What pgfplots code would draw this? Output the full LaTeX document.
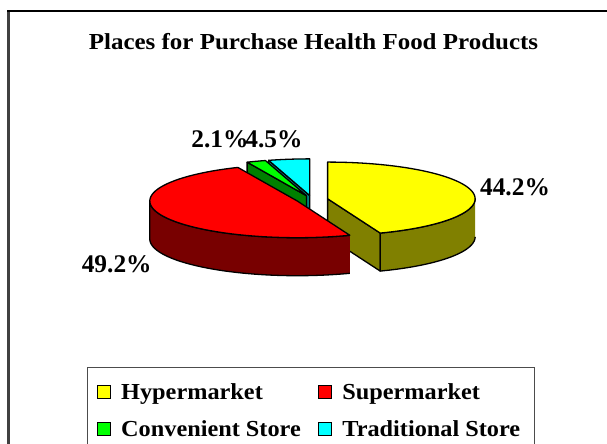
\documentclass[border=0pt]{standalone}
\usepackage{pgfplots}
\pgfplotsset{compat=1.18}
\usepackage{pgfplotstable}
\usepackage{graphicx}
\usepackage{fontspec}
\setmainfont{Liberation Serif}

\definecolor{hyp}{RGB}{255,255,0}\definecolor{hypS}{RGB}{128,128,0}
\definecolor{sup}{RGB}{255,0,0}\definecolor{supS}{RGB}{120,0,0}
\definecolor{con}{RGB}{0,255,0}\definecolor{conS}{RGB}{0,128,0}
\definecolor{tra}{RGB}{0,255,255}\definecolor{traS}{RGB}{0,128,128}

\pgfplotstableread{
name value
Hypermarket 44.2
Supermarket 49.2
Convenient 2.1
Traditional 4.5
}\piedata
\pgfplotstablegetelem{0}{value}\of\piedata \let\vA\pgfplotsretval
\pgfplotstablegetelem{1}{value}\of\piedata \let\vB\pgfplotsretval
\pgfplotstablegetelem{2}{value}\of\piedata \let\vC\pgfplotsretval
\pgfplotstablegetelem{3}{value}\of\piedata \let\vD\pgfplotsretval

% geometry (pixels)
\def\rx{147.5}\def\ry{36.7}\def\dep{38}\def\Cx{312}\def\Cy{199.5}\def\ex{15.9}

\pgfmathsetmacro\aA{0}
\pgfmathsetmacro\aB{3.6*\vA}
\pgfmathsetmacro\aC{\aB+3.6*\vB}
\pgfmathsetmacro\aD{\aC+3.6*\vC}
\pgfmathsetmacro\aE{\aD+3.6*\vD}

\pgfmathsetmacro\cxA{\Cx+\ex*sin((\aA+\aB)/2)}\pgfmathsetmacro\cyA{\Cy-\ex*\ry/\rx*cos((\aA+\aB)/2)}
\pgfmathsetmacro\cxB{\Cx+\ex*sin((\aB+\aC)/2)}\pgfmathsetmacro\cyB{\Cy-\ex*\ry/\rx*cos((\aB+\aC)/2)}
\pgfmathsetmacro\cxC{\Cx+\ex*sin((\aC+\aD)/2)}\pgfmathsetmacro\cyC{\Cy-\ex*\ry/\rx*cos((\aC+\aD)/2)}
\pgfmathsetmacro\cxD{\Cx+\ex*sin((\aD+\aE)/2)}\pgfmathsetmacro\cyD{\Cy-\ex*\ry/\rx*cos((\aD+\aE)/2)}

% radial face points
\pgfmathsetmacro\pAx{\cxA+\rx*sin(\aB)}\pgfmathsetmacro\pAy{\cyA-\ry*cos(\aB)}
\pgfmathsetmacro\pAyb{\pAy+\dep}\pgfmathsetmacro\cyAb{\cyA+\dep}
\pgfmathsetmacro\pCx{\cxC+\rx*sin(\aC)}\pgfmathsetmacro\pCy{\cyC-\ry*cos(\aC)}
\pgfmathsetmacro\pCyb{\pCy+\dep}\pgfmathsetmacro\cyCb{\cyC+\dep}
\pgfmathsetmacro\pDx{\cxD+\rx*sin(\aD)}\pgfmathsetmacro\pDy{\cyD-\ry*cos(\aD)}
\pgfmathsetmacro\pDyb{\pDy+\dep}\pgfmathsetmacro\cyDb{\cyD+\dep}

\pgfplotsset{pieline/.style={draw=black, line width=1.3bp, line join=round, forget plot}}

\newcommand\topface[5]{%
\addplot[pieline, fill=#5, samples at={0,1,...,62}, variable=\k]
 ({(abs(\k-31)>30.5) ? #1 : #1+\rx*sin(#3+(#4-#3)*(\k-1)/60)},
  {(abs(\k-31)>30.5) ? #2 : #2-\ry*cos(#3+(#4-#3)*(\k-1)/60)});}
\newcommand\curvedside[5]{%
\addplot[pieline, fill=#5, samples at={0,1,...,121}, variable=\k]
 ({#1+\rx*sin((\k<60.5) ? (#3+(#4-#3)*\k/60) : (#4-(#4-#3)*(\k-61)/60))},
  {#2-\ry*cos((\k<60.5) ? (#3+(#4-#3)*\k/60) : (#4-(#4-#3)*(\k-61)/60)) + ((\k>60.5) ? \dep : 0)});}
\newcommand\legtext[1]{\scalebox{1.06}[1]{#1}}

\begin{document}
\begin{tikzpicture}
\begin{axis}[
  scale only axis, width=607bp, height=444bp,
  xmin=0, xmax=607, ymin=0, ymax=444, y dir=reverse,
  hide axis, clip=false,
  legend columns=2,
  legend style={draw=none, fill=none, at={(axis cs:96.5,381)}, anchor=north west,
    font=\bfseries\fontsize{23}{25}\selectfont, inner sep=0pt,
    /tikz/every odd column/.append style={column sep=8.5bp},
    /tikz/every even column/.append style={column sep=15bp},
    row sep=16bp},
  legend cell align=left,
]
% Traditional (back)
\addplot[pieline, fill=traS] coordinates {(\cxD,\cyD) (\pDx,\pDy) (\pDx,\pDyb) (\cxD,\cyDb) (\cxD,\cyD)};
\topface{\cxD}{\cyD}{\aD}{\aE}{tra}
% Convenient
\addplot[pieline, fill=conS] coordinates {(\cxC,\cyC) (\pCx,\pCy) (\pCx,\pCyb) (\cxC,\cyCb) (\cxC,\cyC)};
\topface{\cxC}{\cyC}{\aC}{\aD}{con}
% Hypermarket
\addplot[pieline, fill=hypS] coordinates {(\cxA,\cyA) (\pAx,\pAy) (\pAx,\pAyb) (\cxA,\cyAb) (\cxA,\cyA)};
\curvedside{\cxA}{\cyA}{90}{\aB}{hypS}
\topface{\cxA}{\cyA}{\aA}{\aB}{hyp}
% Supermarket
\curvedside{\cxB}{\cyB}{\aB}{270}{supS}
\topface{\cxB}{\cyB}{\aB}{\aC}{sup}

\addlegendimage{legend image code/.code={\draw[fill=hyp,line width=1bp] (0bp,-6.5bp) rectangle (13bp,6.5bp);}}
\addlegendentry{\legtext{Hypermarket}}
\addlegendimage{legend image code/.code={\draw[fill=sup,line width=1bp] (0bp,-6.5bp) rectangle (13bp,6.5bp);}}
\addlegendentry{\legtext{Supermarket}}
\addlegendimage{legend image code/.code={\draw[fill=con,line width=1bp] (0bp,-6.5bp) rectangle (13bp,6.5bp);}}
\addlegendentry{\legtext{Convenient Store}}
\addlegendimage{legend image code/.code={\draw[fill=tra,line width=1bp] (0bp,-6.5bp) rectangle (13bp,6.5bp);}}
\addlegendentry{\legtext{Traditional Store}}

% labels
\node[anchor=base, font=\bfseries\fontsize{23}{26}\selectfont, inner sep=0pt] at (axis cs:313.5,49.3) {\scalebox{1.09}[1]{Places for Purchase Health Food Products}};
\node[anchor=base, font=\bfseries\fontsize{25.5}{28}\selectfont, inner sep=0pt] at (axis cs:515,195) {\vA\%};
\node[anchor=base, font=\bfseries\fontsize{25.5}{28}\selectfont, inner sep=0pt] at (axis cs:116.7,272) {\vB\%};
\node[anchor=base, font=\bfseries\fontsize{25.5}{28}\selectfont, inner sep=0pt] at (axis cs:220,147) {\vC\%};
\node[anchor=base, font=\bfseries\fontsize{25.5}{28}\selectfont, inner sep=0pt] at (axis cs:274,147) {\vD\%};

% frames
\draw[line width=2.5bp, draw=black!75] (axis cs:8.5,444) -- (axis cs:8.5,11);
\draw[line width=1.5bp] (axis cs:7.25,11) -- (axis cs:607,11);
\draw[line width=1bp, draw=black!70] (axis cs:87,444) -- (axis cs:87,367) -- (axis cs:534,367) -- (axis cs:534,444);
\end{axis}
\pgfresetboundingbox
\path[use as bounding box] (current axis.south west) rectangle (current axis.north east);
\end{tikzpicture}
\end{document}
